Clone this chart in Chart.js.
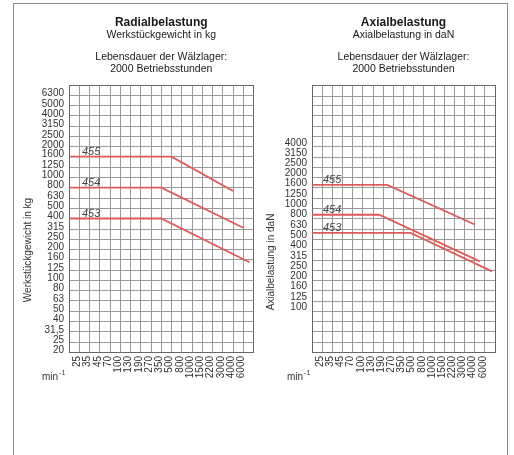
<!DOCTYPE html>
<html>
<head>
<meta charset="utf-8">
<script src="https://cdn.jsdelivr.net/npm/chart.js@4.4.0/dist/chart.umd.min.js"></script>
<style>
  body { margin: 0; background: #fff; }
  #wrap { position: relative; width: 514px; height: 455px; overflow: hidden; background: #fff; }
  #frame { position: absolute; left: 13px; top: 3px; width: 493px; height: 470px; border: 1px solid #8a8a8a; }
  canvas { position: absolute; top: 0; }
  #radial { left: 0; }
  #axial { left: 260px; }
</style>
</head>
<body>
<div id="wrap">
  <div id="frame"></div>
  <canvas id="radial" width="260" height="455"></canvas>
  <canvas id="axial" width="254" height="455"></canvas>
</div>
<script>
// speed grid (min-1), one column each
const xLabels = ["25", "35", "45", "70", "100", "130", "190", "270", "350", "500",
  "800", "1000", "1500", "2200", "3000", "4000", "6000"];

// R10 load grid
const radialTicks = [20, 25, 31.5, 40, 50, 63, 80, 100, 125, 160, 200, 250, 315, 400,
  500, 630, 800, 1000, 1250, 1600, 2000, 2500, 3150, 4000, 5000, 6300, 8000];
const radialShown = [20, 25, 31.5, 40, 50, 63, 80, 100, 125, 160, 200, 250, 315, 400,
  500, 630, 800, 1000, 1250, 1600, 2000, 2500, 3150, 4000, 5000, 6300];
const axialTicks = [40, 50, 63, 80, 100, 125, 160, 200, 250, 315, 400, 500, 630, 800,
  1000, 1250, 1600, 2000, 2500, 3150, 4000, 5000, 6300, 8000, 10000, 12500, 16000];
const axialShown = [100, 125, 160, 200, 250, 315, 400, 500, 630, 800, 1000, 1250,
  1600, 2000, 2500, 3150, 4000];

// x = column position on the speed grid (1 = 25 ... 17 = 6000)
const radialX455 = [0, 10, 16];
const radialY455 = [1600, 1600, 740];
const radialX454 = [0, 9, 17];
const radialY454 = [800, 800, 325];
const radialX453 = [0, 9, 17.6];
const radialY453 = [400, 400, 150];

const axialX455 = [0, 7.4, 16];
const axialY455 = [1700, 1700, 700];
const axialX454 = [0, 6.6, 16.5];
const axialY454 = [870, 870, 306];
const axialX453 = [0, 9.7, 17.7];
const axialY453 = [580, 580, 244];

const FONT = '"Liberation Sans", Arial, sans-serif';
const lineColor = "#e05a5a";

function points(xs, ys) {
  return xs.map((x, i) => ({ x: x, y: ys[i] }));
}

const textPlugin = {
  id: "texts",
  afterDraw(chart, args, opts) {
    const { ctx, chartArea: a } = chart;
    const cx = (a.left + a.right) / 2;
    ctx.save();
    ctx.fillStyle = "#1a1a1a";
    ctx.textAlign = "center";
    ctx.textBaseline = "middle";
    ctx.font = "bold 12px " + FONT;
    ctx.fillText(opts.title, cx, 23);
    ctx.font = "10.5px " + FONT;
    ctx.fillText(opts.subtitle, cx, 35.5);
    ctx.fillText("Lebensdauer der Wälzlager:", cx, 57.5);
    ctx.fillText("2000 Betriebsstunden", cx, 69);

    // y axis title
    ctx.save();
    ctx.translate(opts.yTitleX, opts.yTitleY);
    ctx.rotate(-Math.PI / 2);
    ctx.font = "10px " + FONT;
    ctx.fillStyle = "#333";
    ctx.fillText(opts.yTitle, 0, 0);
    ctx.restore();

    // min-1
    ctx.textAlign = "left";
    ctx.fillStyle = "#333";
    ctx.font = "10px " + FONT;
    ctx.fillText("min", opts.minX, 377);
    const w = ctx.measureText("min").width;
    ctx.font = "7px " + FONT;
    ctx.fillText("-1", opts.minX + w + 1, 373);

    // bearing labels over the lines
    ctx.font = "italic 11px " + FONT;
    ctx.fillStyle = "#444";
    ctx.textBaseline = "alphabetic";
    chart.data.datasets.forEach((ds, i) => {
      const p = chart.getDatasetMeta(i).data[0];
      ctx.fillText(ds.label, a.left + opts.labelDx, p.y - 2);
    });
    ctx.restore();
  },
};

function makeChart(id, o) {
  const lastX = xLabels.length + 1;
  new Chart(document.getElementById(id), {
    type: "line",
    data: {
      datasets: o.series.map((s) => ({
        label: s.name,
        data: points(s.x, s.y),
        borderColor: lineColor,
        borderWidth: 1.8,
        pointRadius: 0,
        tension: 0,
        fill: false,
      })),
    },
    options: {
      responsive: false,
      animation: false,
      devicePixelRatio: 1,
      layout: { padding: { top: 85, bottom: 53, left: 0, right: o.padRight } },
      plugins: {
        legend: { display: false },
        tooltip: { enabled: false },
        texts: o.texts,
      },
      scales: {
        x: {
          type: "linear",
          min: 0,
          max: lastX,
          afterBuildTicks: (sc) => {
            sc.ticks = Array.from({ length: lastX + 1 }, (_, i) => ({ value: i }));
          },
          afterFit: (sc) => {
            sc.height = 50;
            sc.paddingLeft = 0;
            sc.paddingRight = 0;
          },
          grid: {
            drawTicks: false,
            color: (c) => (c.tick && (c.tick.value === 0 || c.tick.value === lastX) ? "#666" : "#9a9a9a"),
          },
          border: { color: "#666" },
          ticks: {
            autoSkip: false,
            maxRotation: 90,
            minRotation: 90,
            padding: 4,
            labelOffset: -2,
            color: "#333",
            font: { family: FONT, size: 10 },
            callback: (v) => xLabels[v - 1] || "",
          },
        },
        y: {
          type: "logarithmic",
          min: o.yTicks[0],
          max: o.yTicks[o.yTicks.length - 1],
          afterBuildTicks: (sc) => {
            sc.ticks = o.yTicks.map((v) => ({ value: v }));
          },
          afterFit: (sc) => {
            sc.width = o.yWidth;
            sc.paddingTop = 0;
            sc.paddingBottom = 0;
          },
          grid: {
            drawTicks: false,
            color: (c) => (c.tick && c.tick.value === o.yTicks[o.yTicks.length - 1] ? "#666" : "#9a9a9a"),
          },
          border: { color: "#666" },
          ticks: {
            autoSkip: false,
            padding: 5,
            labelOffset: o.labelOffset,
            color: "#333",
            font: { family: FONT, size: 10 },
            callback: (v) => (o.shown.includes(v) ? String(v).replace(".", ",") : ""),
          },
        },
      },
    },
    plugins: [textPlugin],
  });
}

makeChart("radial", {
  yTicks: radialTicks,
  shown: radialShown,
  yWidth: 69,
  padRight: 6.5,
  labelOffset: -2,
  series: [
    { name: "455", x: radialX455, y: radialY455 },
    { name: "454", x: radialX454, y: radialY454 },
    { name: "453", x: radialX453, y: radialY453 },
  ],
  texts: {
    title: "Radialbelastung",
    subtitle: "Werkstückgewicht in kg",
    yTitle: "Werkstückgewicht in kg",
    yTitleX: 28,
    yTitleY: 250,
    minX: 42,
    labelDx: 13,
  },
});

makeChart("axial", {
  yTicks: axialTicks,
  shown: axialShown,
  yWidth: 52,
  padRight: 19,
  labelOffset: -4,
  series: [
    { name: "455", x: axialX455, y: axialY455 },
    { name: "454", x: axialX454, y: axialY454 },
    { name: "453", x: axialX453, y: axialY453 },
  ],
  texts: {
    title: "Axialbelastung",
    subtitle: "Axialbelastung in daN",
    yTitle: "Axialbelastung in daN",
    yTitleX: 11,
    yTitleY: 262,
    minX: 27,
    labelDx: 11,
  },
});
</script>
</body>
</html>
